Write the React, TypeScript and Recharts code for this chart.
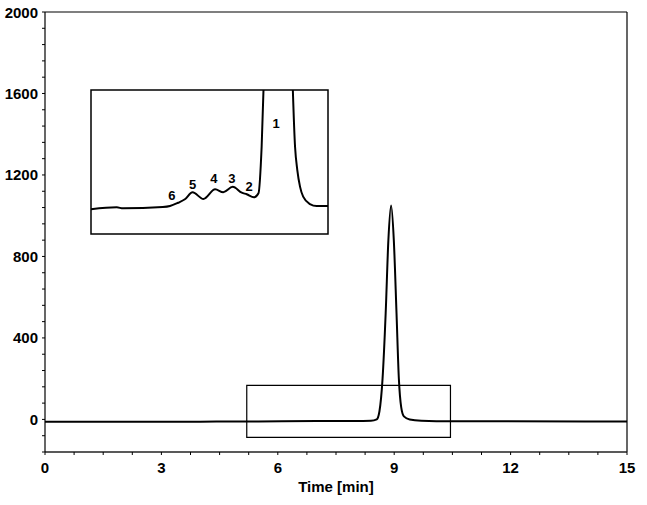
import React from 'react';
import {
  LineChart,
  Line,
  XAxis,
  YAxis,
  ReferenceArea,
  ReferenceLine,
  ReferenceDot,
} from 'recharts';

// main chromatogram (time in min, signal)
const mainTime = [0, 2, 4, 5.5, 7, 8.0, 8.4, 8.55, 8.62, 8.7, 8.78, 8.85, 8.92, 8.99, 9.06, 9.12, 9.18, 9.25, 9.4, 9.7, 10.5, 15];
const mainSignal = [-12, -12, -11, -10, -8, -8, -7, 0, 40, 200, 520, 880, 1050, 880, 520, 200, 60, 15, 0, -6, -9, -10];

// zoomed trace shown in the inset (peak 1 runs off the top of the box)
const insetTime = [5.2, 5.77, 5.91, 6.79, 6.95, 7.13, 7.28, 7.45, 7.69, 7.95, 8.13, 8.34, 8.54, 8.65, 8.81, 8.91, 8.98, 9.05, 9.35, 9.64, 9.72, 9.77, 9.83, 9.9, 10.05, 10.2, 10.45];
const insetSignal = [-32.8, -31.5, -32.2, -31.3, -30.6, -28.3, -25.9, -21.0, -25.7, -19.0, -21.0, -17.2, -21.3, -22.4, -24.5, -21.7, 10.6, 80, 400, 80, 10.6, -5.6, -17.1, -24.1, -29.2, -30.6, -30.6];

const peakLabels = ['1', '2', '3', '4', '5', '6'];
const peakLabelTime = [9.3, 8.7, 8.32, 7.92, 7.45, 6.99];
const peakLabelLevel = [27.1, -16.7, -11.1, -11.1, -15.3, -22.9];

const xTicks = [0, 0.75, 1.5, 2.25, 3, 3.75, 4.5, 5.25, 6, 6.75, 7.5, 8.25, 9, 9.75, 10.5, 11.25, 12, 12.75, 13.5, 14.25, 15];
const xMajor = [0, 3, 6, 9, 12, 15];
const yTicks = [-160, -80, 0, 80, 160, 240, 320, 400, 480, 560, 640, 720, 800, 880, 960, 1040, 1120, 1200, 1280, 1360, 1440, 1520, 1600, 1680, 1760, 1840, 1920, 2000];
const yMajor = [0, 400, 800, 1200, 1600, 2000];

const mainData = mainTime.map((t, i) => ({ t, s: mainSignal[i] }));
const insetData = insetTime.map((t, i) => ({ t, s: insetSignal[i] }));

const font = '"Liberation Sans", Arial, sans-serif';

const XTick = (props: any) => {
  const { x, y, payload } = props;
  const major = xMajor.includes(payload.value);
  return (
    <g>
      <line x1={x} x2={x} y1={y} y2={y + 3} stroke="#000" strokeWidth={1} />
      {major && (
        <text x={x} y={y + 15} textAnchor="middle" dominantBaseline="central"
          fontFamily={font} fontWeight="bold" fontSize={15} fill="#000">
          {payload.value}
        </text>
      )}
    </g>
  );
};

const YTick = (props: any) => {
  const { x, y, payload } = props;
  const major = yMajor.includes(payload.value);
  return (
    <g>
      <line x1={x - 3} x2={x} y1={y} y2={y} stroke="#000" strokeWidth={1} />
      {major && (
        <text x={x - 7} y={y} textAnchor="end" dominantBaseline="central"
          fontFamily={font} fontWeight="bold" fontSize={15} fill="#000">
          {payload.value}
        </text>
      )}
    </g>
  );
};

export default function App() {
  return (
    <div style={{ position: 'absolute', left: 0, top: 0, width: 647, height: 505, background: '#fff' }}>
      <LineChart width={647} height={505} data={mainData}
        margin={{ top: 12, right: 20, bottom: 23, left: 0 }}>
        <XAxis type="number" dataKey="t" domain={[0, 15]} ticks={xTicks} interval={0}
          tickSize={0} tickMargin={0} tick={(p: any) => <XTick {...p} />}
          height={30} stroke="#000" axisLine={{ stroke: '#222', strokeWidth: 1.5 }}
          label={{ value: 'Time [min]', position: 'bottom', offset: -1, fontFamily: font, fontWeight: 'bold', fontSize: 15, fill: '#000' }} />
        <YAxis type="number" domain={[-160, 2000]} ticks={yTicks} interval={0}
          tickSize={0} tickMargin={0} tick={(p: any) => <YTick {...p} />}
          width={45} axisLine={{ stroke: '#000', strokeWidth: 1.2 }} />
        <ReferenceLine y={2000} stroke="#000" strokeWidth={1.2} />
        <ReferenceLine x={15} stroke="#000" strokeWidth={1.2} />
        <ReferenceArea x1={5.2} x2={10.45} y1={-88} y2={167} fill="none" stroke="#000" strokeWidth={1.2} fillOpacity={0} />
        <Line type="monotone" dataKey="s" stroke="#000" strokeWidth={2} dot={false} isAnimationActive={false} />
      </LineChart>
      <div style={{ position: 'absolute', left: 89, top: 88 }}>
        <LineChart width={241} height={148} data={insetData}
          margin={{ top: 2, right: 2, bottom: 2, left: 2 }}>
          <XAxis type="number" dataKey="t" domain={[5.2, 10.45]} hide />
          <YAxis type="number" domain={[-50, 50]} allowDataOverflow hide />
          <ReferenceArea x1={5.2} x2={10.45} y1={-50} y2={50} fill="#fff" fillOpacity={1} stroke="#000" strokeWidth={1.5} />
          <Line type="monotone" dataKey="s" stroke="#000" strokeWidth={2} dot={false} isAnimationActive={false} />
          {peakLabels.map((lab, i) => (
            <ReferenceDot key={lab} x={peakLabelTime[i]} y={peakLabelLevel[i]} r={1}
              fill="none" stroke="none"
              label={{ value: lab, position: 'center', fontFamily: font, fontWeight: 'bold', fontSize: 13, fill: '#000' }} />
          ))}
        </LineChart>
      </div>
    </div>
  );
}
